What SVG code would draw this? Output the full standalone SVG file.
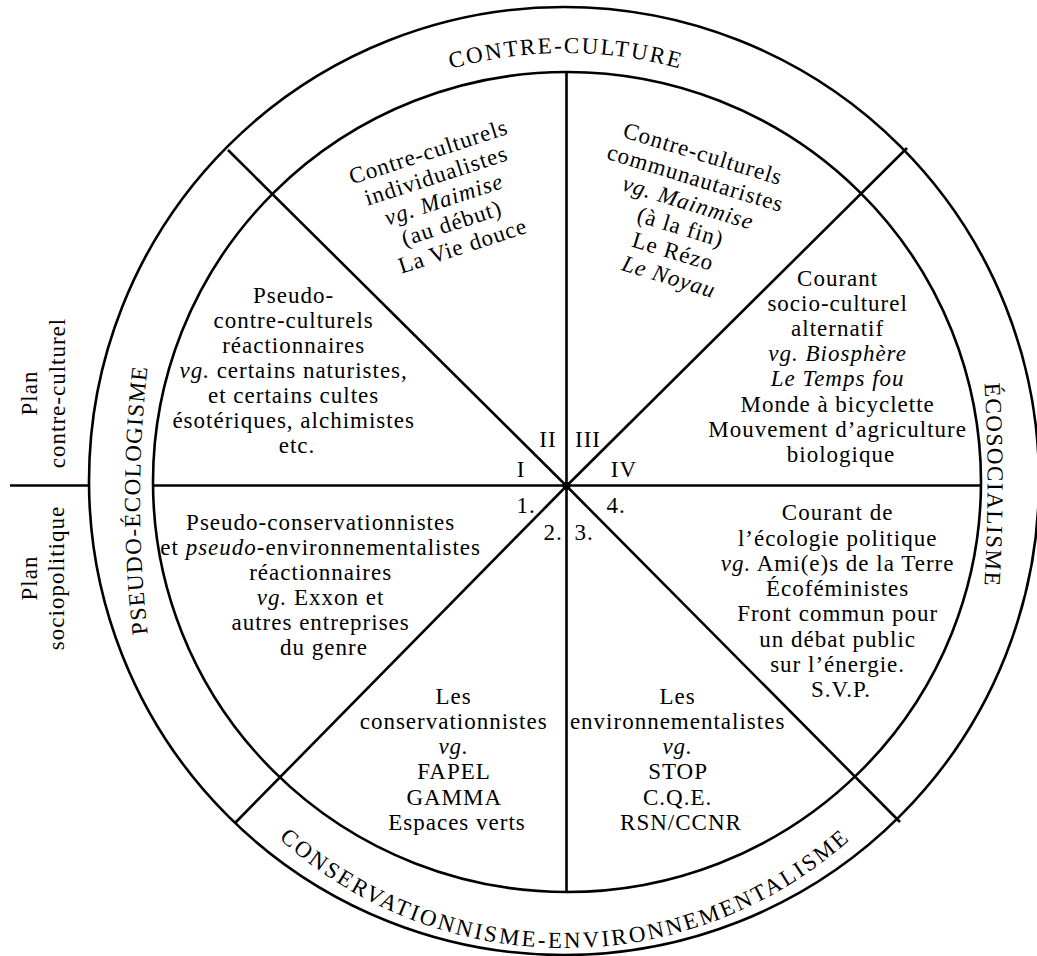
<svg xmlns="http://www.w3.org/2000/svg" width="1037" height="956" viewBox="0 0 1037 956">
<style>
.ln{stroke:#000;stroke-width:2.6;fill:none}
.t{font-family:"Liberation Serif","Times New Roman",serif;font-size:23px;letter-spacing:1px;text-anchor:middle;fill:#000}
.i{font-style:italic}
.rg{font-family:"Liberation Serif","Times New Roman",serif;font-size:23px;text-anchor:middle;fill:#000}
</style>
<defs>
<path id="pTop" d="M138,481 A428,428 0 0 1 994,481"/>
<path id="pBot" d="M136,519 A429,429 0 0 0 994,519"/>
<path id="pRight" d="M984,375 Q991,485 984,595"/>
<path id="pLeft" d="M149,645 Q131,500 149,355"/>
</defs>
<rect width="1037" height="956" fill="#fff"/>

<g id="connectors">
<ellipse class="ln" cx="564" cy="481" rx="475" ry="474"/>
<ellipse class="ln" cx="567" cy="482" rx="414" ry="410"/>
<line class="ln" x1="566.5" y1="72" x2="566.5" y2="892"/>
<line class="ln" x1="153" y1="485.5" x2="981" y2="485.5"/>
<line class="ln" x1="10" y1="485.5" x2="88" y2="485.5"/>
<line class="ln" x1="566.5" y1="486" x2="228" y2="150"/>
<line class="ln" x1="566.5" y1="486" x2="907" y2="148"/>
<line class="ln" x1="566.5" y1="486" x2="235" y2="823"/>
<line class="ln" x1="566.5" y1="486" x2="900" y2="822"/>
<circle cx="566.5" cy="486" r="4" fill="#000"/>
</g>

<g id="ring-contre-culture">
<text class="rg" letter-spacing="2.1"><textPath href="#pTop" startOffset="50%">CONTRE-CULTURE</textPath></text>
</g>
<g id="ring-ecosocialisme">
<text class="rg" letter-spacing="1.5"><textPath href="#pRight" startOffset="50%">ÉCOSOCIALISME</textPath></text>
</g>
<g id="ring-pseudo-ecologisme">
<text class="rg" letter-spacing="1.35"><textPath href="#pLeft" startOffset="50%">PSEUDO-ÉCOLOGISME</textPath></text>
</g>
<g id="ring-conservationnisme">
<text class="rg" letter-spacing="2.5"><textPath href="#pBot" startOffset="50%">CONSERVATIONNISME-ENVIRONNEMENTALISME</textPath></text>
</g>

<g id="plan-labels">
<text class="t" transform="translate(37,393) rotate(-90)">Plan</text>
<text class="t" transform="translate(65,393) rotate(-90)">contre-culturel</text>
<text class="t" transform="translate(37,578) rotate(-90)">Plan</text>
<text class="t" transform="translate(64,578) rotate(-90)">sociopolitique</text>
</g>

<g id="numerals">
<text class="t" x="521" y="477">I</text>
<text class="t" x="548" y="447">II</text>
<text class="t" x="588" y="447">III</text>
<text class="t" x="624" y="477">IV</text>
<text class="t" x="526" y="513">1.</text>
<text class="t" x="616" y="513">4.</text>
<text class="t" x="553" y="540">2.</text>
<text class="t" x="584" y="540">3.</text>
</g>

<g id="sector-I">
<text class="t">
<tspan x="297" y="303">Pseudo-</tspan>
<tspan x="297" y="328">contre-culturels</tspan>
<tspan x="297" y="353">réactionnaires</tspan>
<tspan x="297" y="378"><tspan class="i">vg.</tspan> certains naturistes,</tspan>
<tspan x="297" y="403">et certains cultes</tspan>
<tspan x="297" y="428">ésotériques, alchimistes</tspan>
<tspan x="297" y="453">etc.</tspan>
</text>
</g>

<g id="sector-II">
<text class="t" transform="translate(434,158) rotate(-18)">
<tspan x="0" y="0">Contre-culturels</tspan>
<tspan x="0" y="25">individualistes</tspan>
<tspan x="0" y="50" class="i">vg. Maimise</tspan>
<tspan x="0" y="75">(au début)</tspan>
<tspan x="0" y="100">La Vie douce</tspan>
</text>
</g>

<g id="sector-III">
<text class="t" transform="translate(704,162) rotate(17)">
<tspan x="0" y="0">Contre-culturels</tspan>
<tspan x="0" y="25.5">communautaristes</tspan>
<tspan x="0" y="51" class="i">vg. Mainmise</tspan>
<tspan x="0" y="76.5">(à la fin)</tspan>
<tspan x="0" y="102">Le Rézo</tspan>
<tspan x="0" y="127.5" class="i">Le Noyau</tspan>
</text>
</g>

<g id="sector-IV">
<text class="t">
<tspan x="841" y="286">Courant</tspan>
<tspan x="841" y="311">socio-culturel</tspan>
<tspan x="841" y="336">alternatif</tspan>
<tspan x="841" y="361" class="i">vg. Biosphère</tspan>
<tspan x="841" y="386" class="i">Le Temps fou</tspan>
<tspan x="841" y="411.5">Monde à bicyclette</tspan>
<tspan x="841" y="436.5">Mouvement d’agriculture</tspan>
<tspan x="841" y="461.5">biologique</tspan>
</text>
</g>

<g id="sector-1">
<text class="t">
<tspan x="324" y="530">Pseudo-conservationnistes</tspan>
<tspan x="324" y="555">et <tspan class="i">pseudo</tspan>-environnementalistes</tspan>
<tspan x="324" y="580">réactionnaires</tspan>
<tspan x="324" y="605"><tspan class="i">vg.</tspan> Exxon et</tspan>
<tspan x="324" y="630">autres entreprises</tspan>
<tspan x="324" y="655">du genre</tspan>
</text>
</g>

<g id="sector-2">
<text class="t">
<tspan x="457" y="704">Les</tspan>
<tspan x="457" y="729">conservationnistes</tspan>
<tspan x="457" y="754" class="i">vg.</tspan>
<tspan x="457" y="779">FAPEL</tspan>
<tspan x="457" y="805">GAMMA</tspan>
<tspan x="457" y="830">Espaces verts</tspan>
</text>
</g>

<g id="sector-3">
<text class="t">
<tspan x="681" y="704">Les</tspan>
<tspan x="681" y="729">environnementalistes</tspan>
<tspan x="681" y="754" class="i">vg.</tspan>
<tspan x="681" y="779">STOP</tspan>
<tspan x="681" y="805">C.Q.E.</tspan>
<tspan x="681" y="830">RSN/CCNR</tspan>
</text>
</g>

<g id="sector-4">
<text class="t">
<tspan x="841" y="520">Courant de</tspan>
<tspan x="841" y="545.5">l’écologie politique</tspan>
<tspan x="841" y="571"><tspan class="i">vg.</tspan> Ami(e)s de la Terre</tspan>
<tspan x="841" y="596">Écoféministes</tspan>
<tspan x="841" y="621">Front commun pour</tspan>
<tspan x="841" y="646.5">un débat public</tspan>
<tspan x="841" y="672">sur l’énergie.</tspan>
<tspan x="841" y="697">S.V.P.</tspan>
</text>
</g>
</svg>
